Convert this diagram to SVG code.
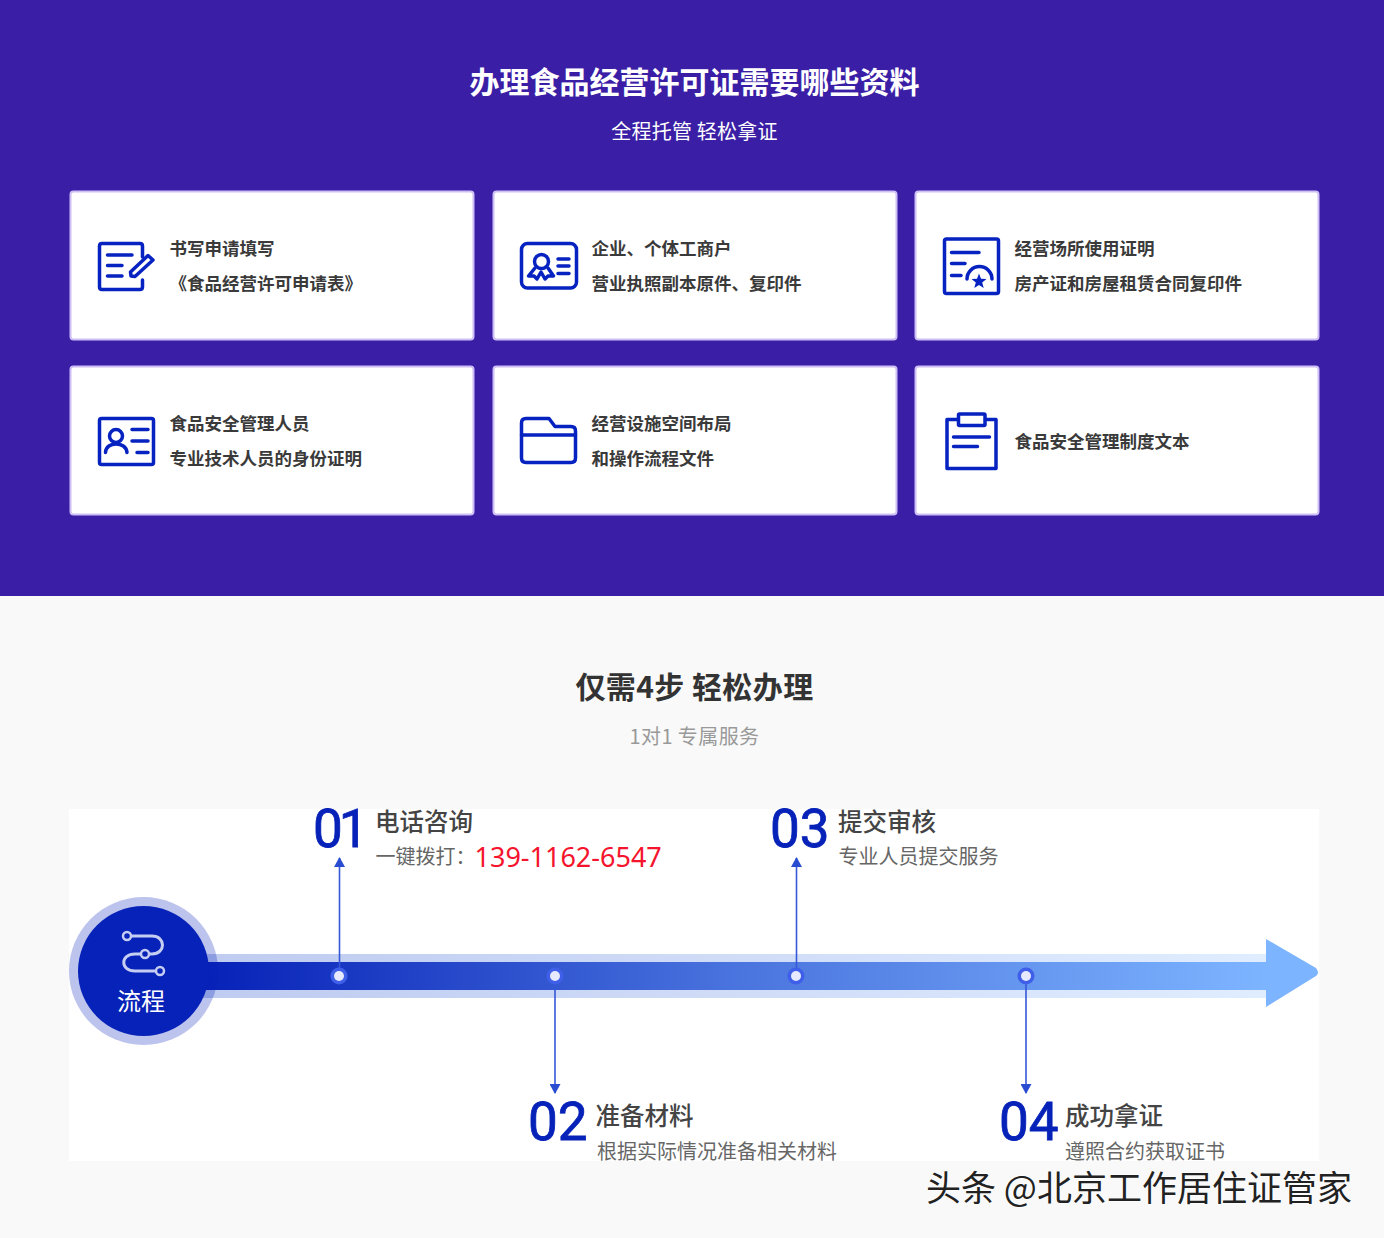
<svg xmlns="http://www.w3.org/2000/svg" width="1384" height="1238" viewBox="0 0 1384 1238">
<style>
text{font-family:"Noto Sans CJK SC","Noto Sans",sans-serif}
.card{fill:#fff;stroke:#cdbef6;stroke-width:2}
.ic{fill:none;stroke:#0622c0;stroke-width:3.500;stroke-linecap:round;stroke-linejoin:round}
.t{font-size:17.500px;font-weight:700;fill:#3a3a3a}
.num{font-family:Roboto,"Noto Sans",sans-serif;font-size:53px;font-weight:400;fill:#0622b8;stroke:#0622b8;stroke-width:.8}
.h{font-size:24.500px;font-weight:500;fill:#444}
.s{font-size:20px;fill:#666}
.lk{stroke:#3557d8;stroke-width:1.600;fill:none}
.ring{fill:#3f5fe8}.dot{fill:#e6e9ff}
.fl{fill:#0722b8;stroke:#c5cdf2;stroke-width:2.500}
</style>
<defs>
<linearGradient id="barD" gradientUnits="userSpaceOnUse" x1="208" y1="0" x2="1266" y2="0"><stop offset="0" stop-color="#0722b8"/><stop offset="0.5" stop-color="#4a74de"/><stop offset="1" stop-color="#7db4ff"/></linearGradient>
<linearGradient id="barL" gradientUnits="userSpaceOnUse" x1="208" y1="0" x2="1266" y2="0"><stop offset="0" stop-color="#bfcbf0"/><stop offset="1" stop-color="#e0edff"/></linearGradient>
<marker id="ah" viewBox="0 0 10 11" refX="9" refY="5.500" markerWidth="10" markerHeight="11" markerUnits="userSpaceOnUse" orient="auto"><path d="M0 0L10 5.500L0 11Z" fill="#2a4cd0"/></marker>
</defs>
<rect width="1384" height="1238" fill="#f9f9f9"/>
<rect width="1384" height="596" fill="#3a1fa6"/>
<g id="heading-1">
<text x="694.500" y="93" text-anchor="middle" font-size="30" font-weight="700" fill="#fff">办理食品经营许可证需要哪些资料</text>
<text x="694.500" y="139" text-anchor="middle" font-size="20" letter-spacing=".2" fill="#fff">全程托管 轻松拿证</text>
</g>
<g id="card-1">
<rect class="card" x="70.500" y="191.500" width="403" height="148" rx="3"/>
<path class="ic" d="M142.500 257V246Q142.500 243.500 140 243.500H102Q99.500 243.500 99.500 246V287Q99.500 289.500 102 289.500H140Q142.500 289.500 142.500 287V280"/>
<path class="ic" d="M107.500 255H132M107.500 265.500H122M107.500 276H122"/>
<path class="ic" d="M131 276L130.500 272L148 255.500L153 260L135 276.500Z"/>
<text class="t" x="169.500" y="255">书写申请填写</text>
<text class="t" x="169.500" y="290">《食品经营许可申请表》</text>
</g>
<g id="card-2">
<rect class="card" x="493.500" y="191.500" width="403" height="148" rx="3"/>
<rect class="ic" x="521.500" y="243.500" width="55" height="44.500" rx="6"/>
<circle class="ic" cx="541.500" cy="261.500" r="7"/>
<path class="ic" d="M535 268L528.500 276L534 276L537 279L541 272L545 279L548 276L553.500 276L548 268"/>
<path class="ic" d="M558 259H569M558 266H569M558 273.500H569"/>
<text class="t" x="591.500" y="255">企业、个体工商户</text>
<text class="t" x="591.500" y="290">营业执照副本原件、复印件</text>
</g>
<g id="card-3">
<rect class="card" x="915.500" y="191.500" width="403" height="148" rx="3"/>
<rect class="ic" x="944.500" y="239" width="54" height="54.500" rx="2"/>
<path class="ic" d="M951.500 252.500H979M951.500 263.500H965M951.500 275.500H961"/>
<path class="ic" d="M967 279A12.500 12.500 0 0 1 992 279"/>
<path d="M979 273.500L981 278.700L986.500 279L982.200 282.500L983.700 288L979 285L974.300 288L975.800 282.500L971.500 279L977 278.700Z" fill="#0622c0"/>
<text class="t" x="1014.500" y="255">经营场所使用证明</text>
<text class="t" x="1014.500" y="290">房产证和房屋租赁合同复印件</text>
</g>
<g id="card-4">
<rect class="card" x="70.500" y="366.500" width="403" height="148" rx="3"/>
<rect class="ic" x="99.500" y="418.500" width="54" height="46" rx="2"/>
<circle class="ic" cx="116" cy="436" r="6.500"/>
<path class="ic" d="M105.500 452.500C106 441 126 441 127 452.500"/>
<path class="ic" d="M132 429.500H148M132 441H148M137 452.500H148"/>
<text class="t" x="169.500" y="430">食品安全管理人员</text>
<text class="t" x="169.500" y="465">专业技术人员的身份证明</text>
</g>
<g id="card-5">
<rect class="card" x="493.500" y="366.500" width="403" height="148" rx="3"/>
<path class="ic" d="M521.500 423Q521.500 418.500 526 418.500H549L555 426.500H571Q575.500 426.500 575.500 431V458Q575.500 462.500 571 462.500H526Q521.500 462.500 521.500 458Z"/>
<path class="ic" d="M521.500 435H575.500"/>
<text class="t" x="591.500" y="430">经营设施空间布局</text>
<text class="t" x="591.500" y="465">和操作流程文件</text>
</g>
<g id="card-6">
<rect class="card" x="915.500" y="366.500" width="403" height="148" rx="3"/>
<path class="ic" d="M957.500 419.500H947V468.500H996V419.500H985.500"/>
<rect class="ic" x="958.500" y="414" width="26.500" height="11.500" rx="1"/>
<path class="ic" d="M953.500 437H989.500M953.500 446.500H977.500"/>
<text class="t" x="1014.500" y="448">食品安全管理制度文本</text>
</g>
<g id="heading-2">
<text x="694.500" y="698" text-anchor="middle" font-size="30" font-weight="700" letter-spacing=".4" fill="#333">仅需4步 轻松办理</text>
<text x="694.500" y="744" text-anchor="middle" font-size="20" letter-spacing=".4" fill="#999">1对1 专属服务</text>
</g>
<rect id="panel" x="69" y="809" width="1250" height="352" fill="#fff"/>
<g id="timeline">
<rect x="190" y="954" width="1076" height="44" fill="url(#barL)"/>
<rect x="190" y="962" width="1076" height="28" fill="url(#barD)"/>
<path d="M1266 939L1316 968Q1320 973 1316 976L1266 1007Z" fill="#7db4ff"/>
</g>
<g id="connectors">
<path class="lk" d="M339.500 968V858" marker-end="url(#ah)"/>
<path class="lk" d="M555 982V1093" marker-end="url(#ah)"/>
<path class="lk" d="M796.500 968V858" marker-end="url(#ah)"/>
<path class="lk" d="M1026 982V1093" marker-end="url(#ah)"/>
</g>
<g id="start">
<ellipse cx="143.500" cy="971" rx="74.500" ry="74" fill="#0722b8" fill-opacity=".27"/>
<ellipse cx="143.500" cy="971" rx="65.500" ry="65" fill="#0722b8"/>
<path d="M131 936H152C166 936 166 954 152 954H135C120 954 120 971 135 971H156" fill="none" stroke="#c5cdf2" stroke-width="3"/>
<circle class="fl" cx="127" cy="936" r="4"/>
<circle class="fl" cx="145" cy="954" r="4"/>
<circle class="fl" cx="160" cy="971" r="4"/>
<text x="141" y="1010" text-anchor="middle" font-size="24" fill="#fff">流程</text>
</g>
<g id="step-1">
<circle class="ring" cx="339" cy="976" r="8.500"/><circle class="dot" cx="339" cy="976" r="5"/>
<text class="num" x="313" y="847" letter-spacing="-4">01</text>
<text class="h" x="375" y="831">电话咨询</text>
<text class="s" x="375.500" y="864">一键拨打：</text>
<text x="474.500" y="867" font-size="27" fill="#f5142d" style="font-family:'Noto Sans',sans-serif">139-1162-6547</text>
</g>
<g id="step-2">
<circle class="ring" cx="555" cy="976" r="8.500"/><circle class="dot" cx="555" cy="976" r="5"/>
<text class="num" x="528" y="1140">02</text>
<text class="h" x="595.500" y="1125">准备材料</text>
<text class="s" x="597" y="1159">根据实际情况准备相关材料</text>
</g>
<g id="step-3">
<circle class="ring" cx="796" cy="976" r="8.500"/><circle class="dot" cx="796" cy="976" r="5"/>
<text class="num" x="770" y="847">03</text>
<text class="h" x="838" y="831">提交审核</text>
<text class="s" x="838.500" y="864">专业人员提交服务</text>
</g>
<g id="step-4">
<circle class="ring" cx="1026" cy="976" r="8.500"/><circle class="dot" cx="1026" cy="976" r="5"/>
<text class="num" x="999" y="1140">04</text>
<text class="h" x="1065" y="1125">成功拿证</text>
<text class="s" x="1065" y="1159">遵照合约获取证书</text>
</g>
<text id="watermark" x="926" y="1201" font-size="35" fill="#222" stroke="#fff" stroke-width="1.200" paint-order="stroke">头条 @北京工作居住证管家</text>
</svg>
